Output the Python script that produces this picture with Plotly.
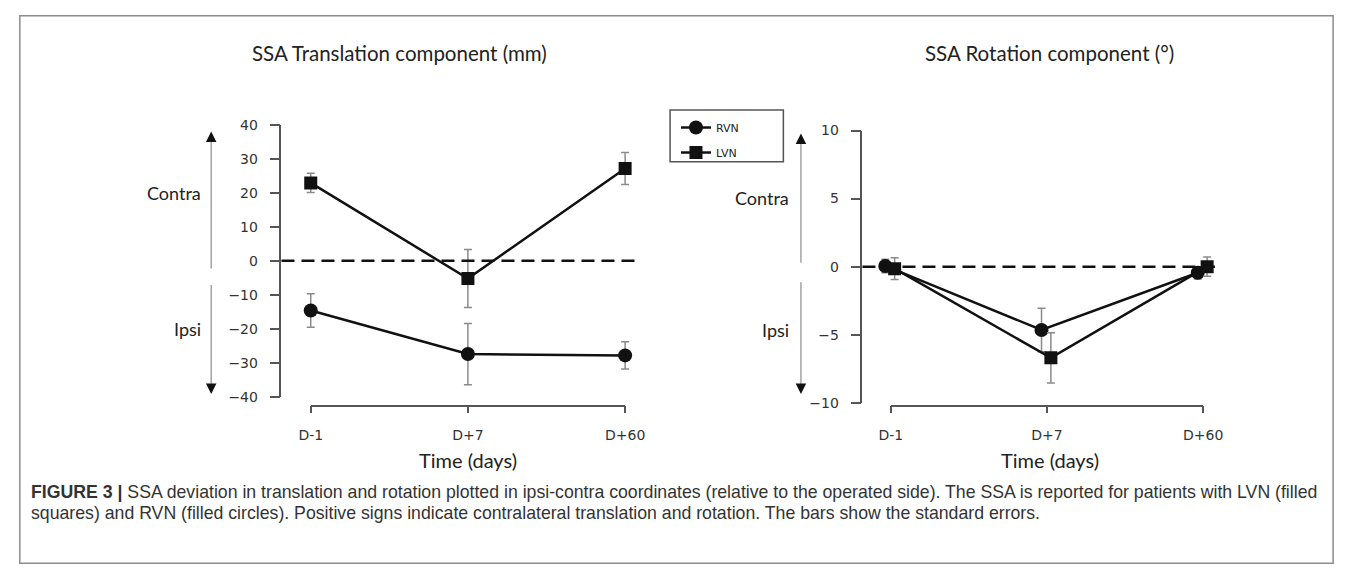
import plotly.graph_objects as go

# ---------------- data ----------------
categories = ["D-1", "D+7", "D+60"]

trans_rvn = [-14.6, -27.4, -27.8]
trans_rvn_se = [4.9, 9.0, 4.0]
trans_lvn = [22.9, -5.2, 27.1]
trans_lvn_se = [2.8, 8.5, 4.7]

rot_rvn = [0.05, -4.65, -0.45]
rot_rvn_se = [0.5, 1.6, 0.45]
rot_lvn = [-0.15, -6.7, 0.0]
rot_lvn_se = [0.8, 1.85, 0.7]

trans_ticks = [-40, -30, -20, -10, 0, 10, 20, 30, 40]
rot_ticks = [-10, -5, 0, 5, 10]

series_names = ["RVN", "LVN"]

# ---------------- helpers ----------------
W, H = 1357, 579
def X(px):
    return px / W
def Y(py):
    return 1 - py / H

idx = list(range(len(categories)))
rot_rvn_x = [i - 0.035 for i in idx]
rot_lvn_x = [i + 0.025 for i in idx]

BLACK = "#111111"
ERR = "#8a8a8a"
AX = "#555555"
TICKFONT = dict(family="DejaVu Sans", size=14, color="#333333")

def err(vals):
    return dict(type="data", array=vals, visible=True, color=ERR, thickness=1.5, width=4)

fig = go.Figure()

fig.add_trace(go.Scatter(x=idx, y=trans_rvn, name=series_names[0], mode="lines+markers",
                         line=dict(color=BLACK, width=2.5),
                         marker=dict(symbol="circle", size=14, color=BLACK),
                         error_y=err(trans_rvn_se), xaxis="x", yaxis="y",
                         legendgroup="a", showlegend=True))
fig.add_trace(go.Scatter(x=idx, y=trans_lvn, name=series_names[1], mode="lines+markers",
                         line=dict(color=BLACK, width=2.5),
                         marker=dict(symbol="square", size=13, color=BLACK),
                         error_y=err(trans_lvn_se), xaxis="x", yaxis="y",
                         legendgroup="b", showlegend=True))
fig.add_trace(go.Scatter(x=rot_rvn_x, y=rot_rvn, name=series_names[0], mode="lines+markers",
                         line=dict(color=BLACK, width=2.5),
                         marker=dict(symbol="circle", size=14, color=BLACK),
                         error_y=err(rot_rvn_se), xaxis="x2", yaxis="y2", showlegend=False))
fig.add_trace(go.Scatter(x=rot_lvn_x, y=rot_lvn, name=series_names[1], mode="lines+markers",
                         line=dict(color=BLACK, width=2.5),
                         marker=dict(symbol="square", size=13, color=BLACK),
                         error_y=err(rot_lvn_se), xaxis="x2", yaxis="y2", showlegend=False))
fig.add_trace(go.Scatter(x=idx, y=[None] * 3, xaxis="x3", yaxis="y", showlegend=False, hoverinfo="skip"))
fig.add_trace(go.Scatter(x=idx, y=[None] * 3, xaxis="x4", yaxis="y2", showlegend=False, hoverinfo="skip"))

yax_common = dict(showline=True, linecolor=AX, linewidth=1.5, ticks="outside", ticklen=10,
                  tickcolor=AX, tickwidth=1.5, showgrid=False, zeroline=False, tickfont=TICKFONT,
                  ticklabelstandoff=9)
cat_common = dict(showline=True, linecolor=AX, linewidth=1.5, ticks="outside", ticklen=7,
                  tickcolor=AX, tickwidth=1.5, showgrid=False, zeroline=False, tickfont=TICKFONT,
                  tickvals=idx, ticktext=categories, range=[0, 2], anchor="free",
                  ticklabelstandoff=10)

fig.update_layout(
    width=W, height=H, margin=dict(l=0, r=0, t=0, b=0),
    paper_bgcolor="white", plot_bgcolor="rgba(0,0,0,0)",
    xaxis=dict(domain=[X(276), X(640)], range=[-0.186, 2.075], visible=False, anchor="y"),
    yaxis=dict(domain=[Y(400), Y(120)], range=[-40, 40], tickvals=trans_ticks, anchor="x", **yax_common),
    xaxis2=dict(domain=[X(871), X(1232)], range=[-0.181, 2.075], visible=False, anchor="y2"),
    yaxis2=dict(domain=[Y(406), Y(126)], range=[-10, 10], tickvals=rot_ticks, anchor="x2", **yax_common),
    xaxis3=dict(domain=[X(306), X(628)], position=Y(409), **cat_common),
    xaxis4=dict(domain=[X(900), X(1220)], position=Y(409), **cat_common),
    legend=dict(x=X(680), y=Y(108), xanchor="left", yanchor="top", bgcolor="rgba(0,0,0,0)",
                borderwidth=0, font=dict(family="DejaVu Sans", size=11, color="#222"),
                tracegroupgap=6),
    showlegend=True,
)

shapes = []
shapes.append(dict(type="rect", xref="paper", yref="paper", x0=X(8), x1=X(1353), y0=Y(571), y1=Y(8),
                   line=dict(color="#8c8c8c", width=1.5)))
shapes.append(dict(type="rect", xref="paper", yref="paper", x0=X(674), x1=X(790), y0=Y(158), y1=Y(105),
                   line=dict(color="#555555", width=1.5), fillcolor="white", layer="below"))
for xr, yr in (("x domain", "y"), ("x2 domain", "y2")):
    shapes.append(dict(type="line", xref=xr, yref=yr, x0=0, x1=1, y0=0, y1=0,
                       line=dict(color=BLACK, width=2.5, dash="13px,7px")))
for xp, y0p, y1p in ((204, 268, 132), (204, 285, 392), (808, 262, 134), (808, 282, 392)):
    shapes.append(dict(type="line", xref="paper", yref="paper", x0=X(xp), x1=X(xp), y0=Y(y0p), y1=Y(y1p),
                       line=dict(color="#8c8c8c", width=1.2)))
fig.update_layout(shapes=shapes)

ann = []
for xp, tip, ay in ((204, 127, 10), (204, 397, -10), (808, 129, 10), (808, 397, -10)):
    ann.append(dict(x=X(xp), y=Y(tip), xref="paper", yref="paper", text="", showarrow=True,
                    ax=0, ay=ay, arrowhead=2, arrowsize=1.4, arrowwidth=1.5, arrowcolor="#111"))

LAB = dict(family="Lato", color="#222222")
def txt(t, xp, yp, size, **kw):
    d = dict(text=t, x=X(xp), y=Y(yp), xref="paper", yref="paper", showarrow=False,
             font=dict(size=size, **LAB), xanchor="center", yanchor="middle")
    d.update(kw)
    ann.append(d)

txt("SSA Translation component (mm)", 397, 46, 20.5)
txt("SSA Rotation component (°)", 1063, 46, 20.5)
txt("Contra", 196, 190, 18, xanchor="right")
txt("Ipsi", 196, 330, 18, xanchor="right")
txt("Contra", 798, 195, 18, xanchor="right")
txt("Ipsi", 798, 331, 18, xanchor="right")
txt("Time (days)", 467, 465, 20)
txt("Time (days)", 1063, 465, 20)

cap = dict(family="Liberation Sans", size=17.7, color="#333333")
ann.append(dict(text="<b>FIGURE 3 |</b> SSA deviation in translation and rotation plotted in ipsi-contra coordinates "
                     "(relative to the operated side). The SSA is reported for patients with LVN (filled",
                x=X(17), y=Y(498), xref="paper", yref="paper", showarrow=False,
                xanchor="left", yanchor="middle", font=cap))
ann.append(dict(text="squares) and RVN (filled circles). Positive signs indicate contralateral translation and rotation. "
                     "The bars show the standard errors.",
                x=X(17), y=Y(519), xref="paper", yref="paper", showarrow=False,
                xanchor="left", yanchor="middle", font=cap))
fig.update_layout(annotations=ann)

fig.write_html("out.html", config={"displayModeBar": False},
               post_script="document.body.style.margin='0px';document.body.style.overflow='hidden';")
